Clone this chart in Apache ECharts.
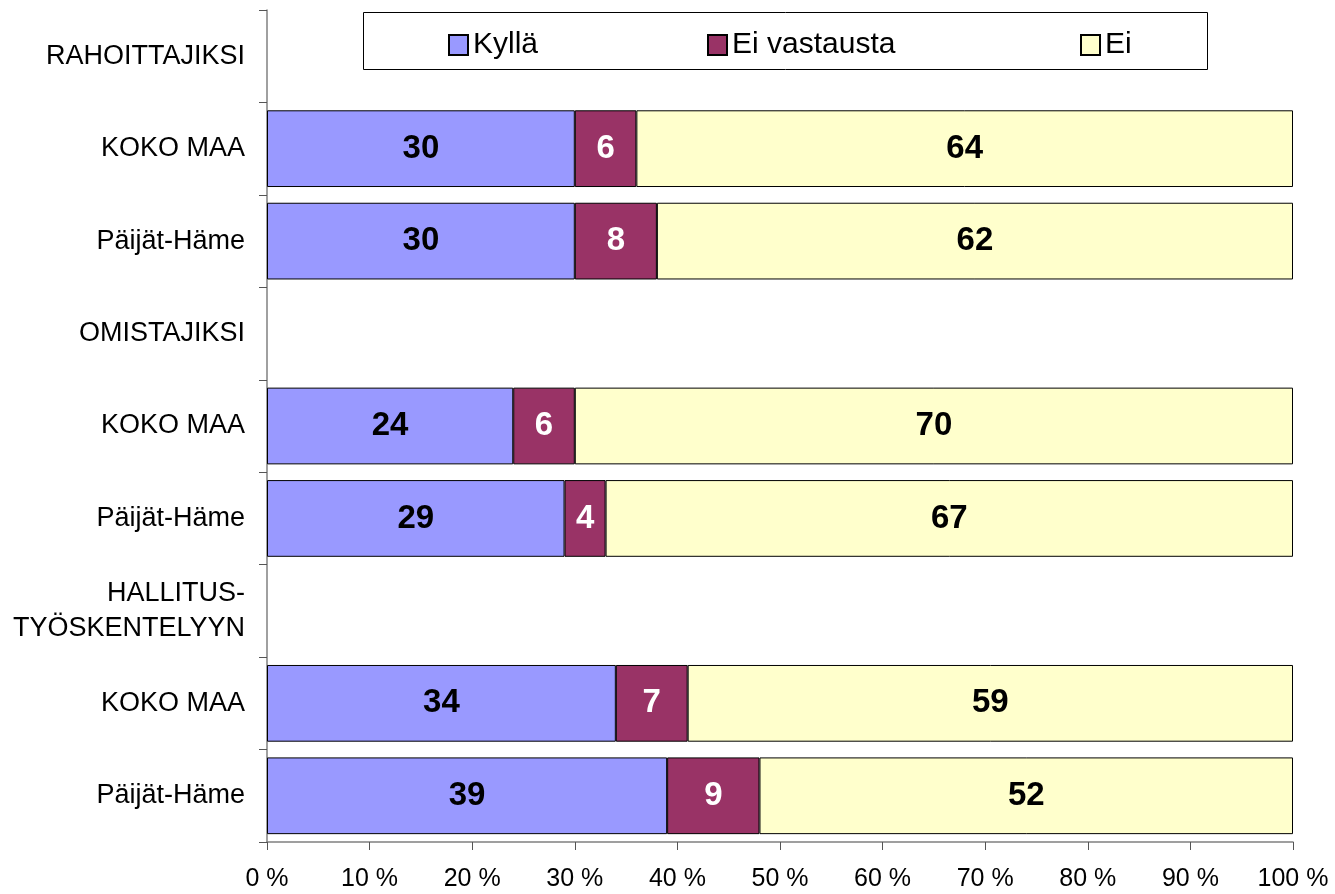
<!DOCTYPE html>
<html>
<head>
<meta charset="utf-8">
<script src="https://cdn.jsdelivr.net/npm/echarts@6/dist/echarts.min.js"></script>
<style>
  html, body { margin: 0; padding: 0; background: #fff; }
  #chart { width: 1335px; height: 894px; }
</style>
</head>
<body>
<div id="chart"></div>
<script>
// categories from top to bottom
const categories = ['RAHOITTAJIKSI', 'KOKO MAA', 'Päijät-Häme', 'OMISTAJIKSI', 'KOKO MAA', 'Päijät-Häme', 'HALLITUS-\nTYÖSKENTELYYN', 'KOKO MAA', 'Päijät-Häme'];
const kylla = [null, 30, 30, null, 24, 29, null, 34, 39];
const eiVastausta = [null, 6, 8, null, 6, 4, null, 7, 9];
const ei = [null, 64, 62, null, 70, 67, null, 59, 52];
const xTicks = [0, 10, 20, 30, 40, 50, 60, 70, 80, 90, 100];

let chart = echarts.init(document.getElementById('chart'));

function barLabel(color) {
  return {
    show: true,
    position: 'inside',
    color: color,
    fontFamily: 'Liberation Sans',
    fontWeight: 'bold',
    fontSize: 33
  };
}

function oneLegend(name, left) {
  return {
    data: [name],
    left: left,
    top: 30,
    itemWidth: 19,
    itemHeight: 20,
    itemGap: 0,
    padding: 0,
    icon: 'rect',
    textStyle: { fontFamily: 'Liberation Sans', fontSize: 30, color: '#000', padding: [2, 0, 0, 0] }
  };
}

let option = {
  animation: false,
  backgroundColor: '#fff',
  graphic: [{
    type: 'rect',
    shape: { x: 363.5, y: 12.5, width: 844, height: 57 },
    style: { fill: '#fff', stroke: '#000', lineWidth: 1 },
    z: -1
  }],
  legend: [
    oneLegend('Kyllä', 448),
    oneLegend('Ei vastausta', 707),
    oneLegend('Ei', 1080)
  ],
  grid: { left: 267, right: 42, top: 10, bottom: 52 },
  xAxis: {
    type: 'value',
    min: xTicks[0],
    max: xTicks[xTicks.length - 1],
    interval: 10,
    axisLine: { show: true, lineStyle: { color: '#808080', width: 1.5 } },
    axisTick: { show: true, length: 8, lineStyle: { color: '#555' } },
    splitLine: { show: false },
    axisLabel: {
      margin: 25,
      formatter: '{value} %',
      color: '#000',
      fontFamily: 'Liberation Sans',
      fontSize: 25
    }
  },
  yAxis: {
    type: 'category',
    inverse: true,
    data: categories,
    axisLine: { show: true, lineStyle: { color: '#808080', width: 1.5 } },
    axisTick: { show: true, length: 8, alignWithLabel: false, lineStyle: { color: '#555' } },
    axisLabel: {
      margin: 22,
      color: '#000',
      fontFamily: 'Liberation Sans',
      fontSize: 27,
      lineHeight: 35,
      align: 'right'
    }
  },
  series: [
    {
      name: 'Kyllä',
      type: 'bar',
      stack: 'total',
      barWidth: '83%',
      data: kylla,
      itemStyle: { color: '#9999FF', borderColor: '#000', borderWidth: 1 },
      label: barLabel('#000')
    },
    {
      name: 'Ei vastausta',
      type: 'bar',
      stack: 'total',
      data: eiVastausta,
      itemStyle: { color: '#993366', borderColor: '#000', borderWidth: 1 },
      label: barLabel('#fff')
    },
    {
      name: 'Ei',
      type: 'bar',
      stack: 'total',
      data: ei,
      itemStyle: { color: '#FFFFCC', borderColor: '#000', borderWidth: 1 },
      label: barLabel('#000')
    }
  ]
};
chart.setOption(option);
</script>
</body>
</html>
